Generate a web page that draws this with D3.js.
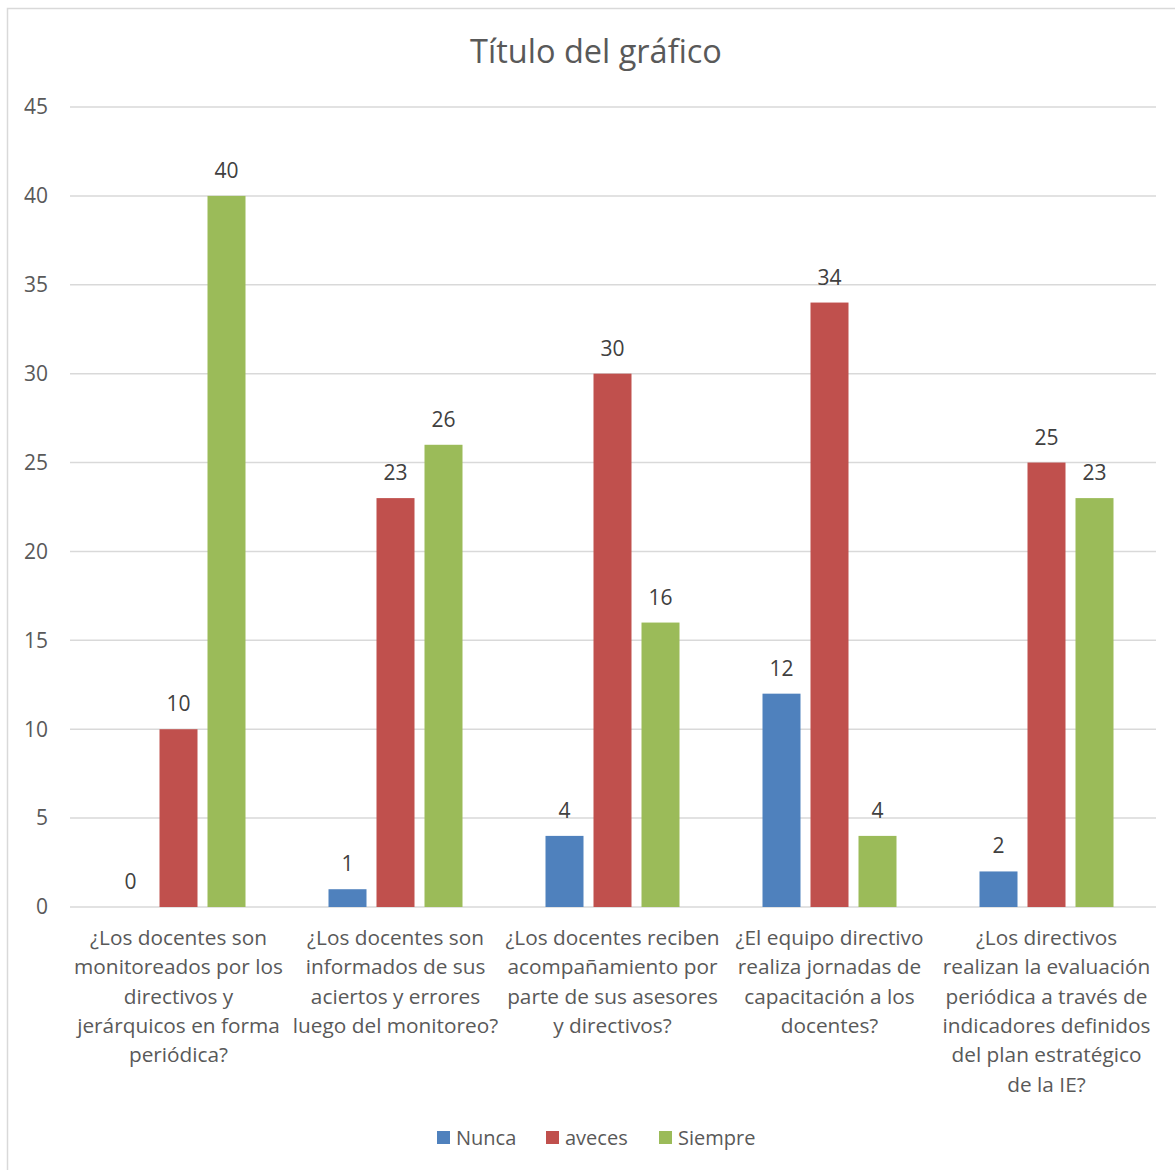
<!DOCTYPE html>
<html>
<head>
<meta charset="utf-8">
<script src="https://cdn.jsdelivr.net/npm/d3@7"></script>
<style>
  body { margin: 0; background: #fff; }
  text { font-family: "Open Sans", "Noto Sans", sans-serif; }
</style>
</head>
<body>
<script>
var categories = [
  "¿Los docentes son\nmonitoreados por los\ndirectivos y\njerárquicos en forma\nperiódica?",
  "¿Los docentes son\ninformados de sus\naciertos y errores\nluego del monitoreo?",
  "¿Los docentes reciben\nacompañamiento por\nparte de sus asesores\ny directivos?",
  "¿El equipo directivo\nrealiza jornadas de\ncapacitación a los\ndocentes?",
  "¿Los directivos\nrealizan la evaluación\nperiódica a través de\nindicadores definidos\ndel plan estratégico\nde la IE?"
];
var seriesNames = ["Nunca", "aveces", "Siempre"];
var nunca = [0, 1, 4, 12, 2];
var aveces = [10, 23, 30, 34, 25];
var siempre = [40, 26, 16, 4, 23];
var colors = ["#4F81BD", "#C0504D", "#9BBB59"];
var yTicks = [0, 5, 10, 15, 20, 25, 30, 35, 40, 45];
var title = "Título del gráfico";

var seriesValues = [nunca, aveces, siempre];

var svg = d3.select("body").append("svg")
  .attr("width", 1175)
  .attr("height", 1170);

// chart border (runs off right/bottom edge)
svg.append("rect")
  .attr("x", 7.5).attr("y", 8.5)
  .attr("width", 1200).attr("height", 1200)
  .attr("fill", "none")
  .attr("stroke", "#d9d9d9")
  .attr("stroke-width", 1.5);

var y = d3.scaleLinear().domain([0, 45]).range([907, 107]);
var x0 = d3.scaleBand().domain(categories).range([70, 1155]);
var x1 = d3.scaleBand().domain(seriesNames).range([0, x0.bandwidth()])
  .paddingInner(10 / 48).paddingOuter(0.8646);

// gridlines
svg.append("g").selectAll("line")
  .data(yTicks)
  .enter().append("line")
  .attr("x1", 70).attr("x2", 1156)
  .attr("y1", function (d) { return y(d); })
  .attr("y2", function (d) { return y(d); })
  .attr("stroke", "#d9d9d9")
  .attr("stroke-width", 1.5);

// y labels
svg.append("g").selectAll("text")
  .data(yTicks)
  .enter().append("text")
  .attr("x", 48)
  .attr("y", function (d) { return y(d); })
  .attr("dy", "0.35em")
  .attr("text-anchor", "end")
  .attr("fill", "#595959")
  .style("font-size", "21px")
  .text(function (d) { return d; });

// bars
var groups = svg.append("g").selectAll("g")
  .data(categories)
  .enter().append("g")
  .attr("transform", function (d) { return "translate(" + x0(d) + ",0)"; });

groups.each(function (cat, ci) {
  var g = d3.select(this);
  var rows = seriesNames.map(function (s, si) {
    return { s: s, v: seriesValues[si][ci], c: colors[si] };
  });
  g.selectAll("rect").data(rows).enter().append("rect")
    .attr("x", function (d) { return x1(d.s); })
    .attr("width", x1.bandwidth())
    .attr("y", function (d) { return y(d.v); })
    .attr("height", function (d) { return y(0) - y(d.v); })
    .attr("fill", function (d) { return d.c; });
  g.selectAll("text").data(rows).enter().append("text")
    .attr("x", function (d) { return x1(d.s) + x1.bandwidth() / 2; })
    .attr("y", function (d) { return y(d.v) - 18; })
    .attr("text-anchor", "middle")
    .attr("fill", "#404040")
    .style("font-size", "21px")
    .text(function (d) { return d.v; });
});

// category labels
svg.append("g").selectAll("text")
  .data(categories)
  .enter().append("text")
  .attr("x", function (d) { return x0(d) + x0.bandwidth() / 2; })
  .attr("y", 945)
  .attr("text-anchor", "middle")
  .attr("fill", "#595959")
  .style("font-size", "20.8px")
  .each(function (d) {
    var t = d3.select(this);
    d.split("\n").forEach(function (line, i) {
      t.append("tspan")
        .attr("x", x0(d) + x0.bandwidth() / 2)
        .attr("dy", i === 0 ? "0" : "29.3")
        .text(line);
    });
  });

// title
svg.append("text")
  .attr("x", 596).attr("y", 63)
  .attr("text-anchor", "middle")
  .attr("fill", "#595959")
  .style("font-size", "32.5px")
  .text(title);

// legend
var legendX = [437, 546, 659];
var legend = svg.append("g").selectAll("g")
  .data(seriesNames)
  .enter().append("g")
  .attr("transform", function (d, i) { return "translate(" + legendX[i] + ",1131)"; });
legend.append("rect")
  .attr("width", 13).attr("height", 13)
  .attr("fill", function (d, i) { return colors[i]; });
legend.append("text")
  .attr("x", 19).attr("y", 14)
  .attr("fill", "#595959")
  .style("font-size", "20px")
  .text(function (d) { return d; });
</script>
</body>
</html>
